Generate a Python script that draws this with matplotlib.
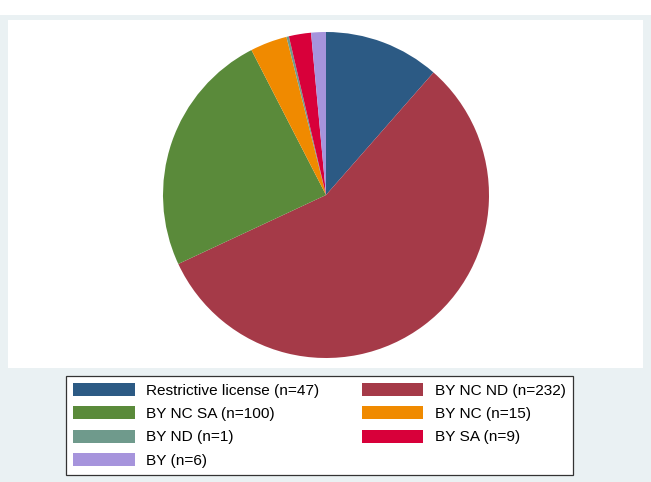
import matplotlib.pyplot as plt
from matplotlib.patches import Rectangle

labels = ["Restrictive license", "BY NC ND", "BY NC SA", "BY NC", "BY ND", "BY SA", "BY"]
counts = [47, 232, 100, 15, 1, 9, 6]
colors = ["#2c5a84", "#a53a48", "#5a8a3a", "#f08a00", "#6f9a8c", "#d8003a", "#a694dc"]

W, H = 651, 482
fig = plt.figure(figsize=(W / 100, H / 100), dpi=100, facecolor="white")

# stata-like outer frame and white plot region
fig.patches.append(Rectangle((0, 0), 1, (H - 15) / H, transform=fig.transFigure,
                             facecolor="#eaf1f3", edgecolor="none", zorder=-2))
fig.patches.append(Rectangle((8 / W, (H - 368) / H), 635 / W, 348 / H,
                             transform=fig.transFigure, facecolor="white",
                             edgecolor="none", zorder=-1))

cx, cy, r = 326, H - 195, 163
ax = fig.add_axes([(cx - r) / W, (cy - r) / H, 2 * r / W, 2 * r / H])
ax.set_zorder(1)
wedges, _ = ax.pie(counts, colors=colors, startangle=90, counterclock=False,
                   wedgeprops=dict(linewidth=0))
ax.set_xlim(-1, 1)
ax.set_ylim(-1, 1)
ax.set_aspect("equal")

# row-wise order like stata: reorder for matplotlib's column filling
order = [0, 2, 4, 6, 1, 3, 5]
handles = [wedges[i] for i in order]
texts = [f"{labels[i]} (n={counts[i]})" for i in order]
leg = fig.legend(handles, texts, ncol=2, loc="upper left",
                 bbox_to_anchor=(66 / W, (H - 376) / H),
                 prop={"family": "Liberation Sans", "size": 11.1},
                 frameon=True, fancybox=False, edgecolor="#333333",
                 facecolor="white", framealpha=1,
                 handlelength=4.0, handleheight=0.92, handletextpad=0.75,
                 labelspacing=0.55, columnspacing=2.75, borderpad=0.45,
                 borderaxespad=0)
leg.get_frame().set_linewidth(0.9)
leg.set_zorder(2)

fig.savefig("out.png", dpi=100, facecolor=fig.get_facecolor())
